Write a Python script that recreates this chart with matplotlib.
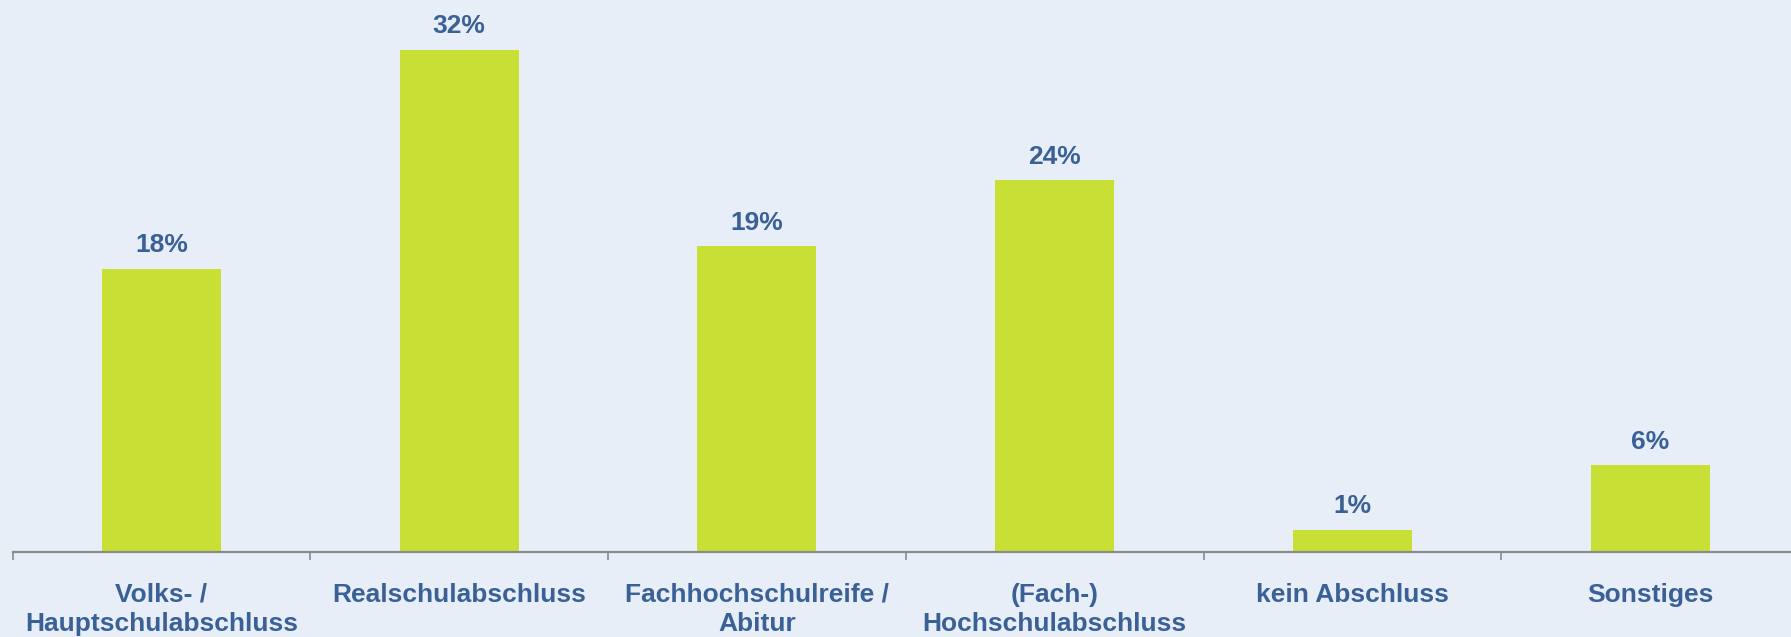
import matplotlib.pyplot as plt
import numpy as np

# data (bar heights) + the printed labels
categories = ['Volks- /\nHauptschulabschluss', 'Realschulabschluss',
              'Fachhochschulreife /\nAbitur', '(Fach-)\nHochschulabschluss',
              'kein Abschluss', 'Sonstiges']
values = [18.0, 31.9, 19.4, 23.6, 1.4, 5.5]
value_labels = ['18%', '32%', '19%', '24%', '1%', '6%']

bg = '#E8EEF8'
bar_color = '#C8DF35'
text_color = '#3A6196'
axis_gray = '#8A8A8A'

plt.rcParams['font.family'] = ['Liberation Sans', 'DejaVu Sans']

dpi = 100
fig = plt.figure(figsize=(1791 / dpi, 637 / dpi), dpi=dpi, facecolor=bg)
# axis line sits at y=552px, categories span 12.5px .. 1799px
ax = fig.add_axes([12.5 / 1791, 85 / 637, 1786.5 / 1791, 552 / 637])
ax.set_facecolor(bg)

x = np.arange(len(categories))
ax.bar(x, values, width=0.4, color=bar_color)
for xi, v, lab in zip(x, values, value_labels):
    ax.annotate(lab, (xi, v), xytext=(0, 12), textcoords='offset points',
                ha='center', va='baseline', fontsize=19, fontweight='bold',
                color=text_color)

ax.set_xlim(-0.5, len(categories) - 0.5)
ax.set_ylim(0, 552 / 15.75)

for s in ['top', 'right', 'left']:
    ax.spines[s].set_visible(False)
ax.spines['bottom'].set_color(axis_gray)
ax.spines['bottom'].set_linewidth(1.6)

ax.set_yticks([])
ax.set_xticks(np.arange(-0.5, len(categories), 1.0))
ax.set_xticklabels([])
ax.tick_params(axis='x', which='major', direction='out', length=6,
               width=1.2, color=axis_gray)
ax.set_xticks(x, minor=True)
ax.set_xticklabels(categories, minor=True, fontsize=19, fontweight='bold',
                   color=text_color, linespacing=1.27)
ax.tick_params(axis='x', which='minor', length=0, pad=22)

fig.savefig('out.png', dpi=dpi, facecolor=bg)
